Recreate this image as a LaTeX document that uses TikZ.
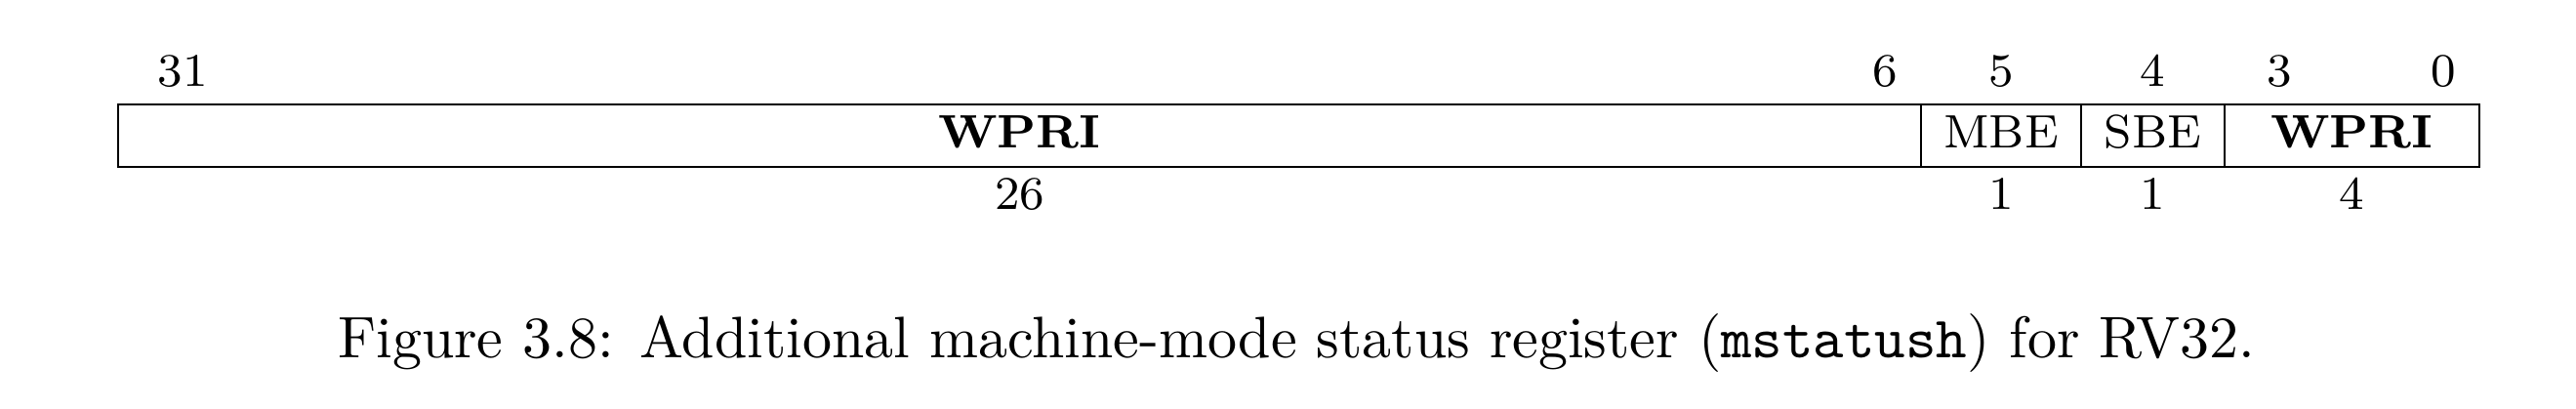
\documentclass[tikz,border=0pt]{standalone}
\begin{document}
\begin{tikzpicture}[x=1pt,y=1pt,
  field/.style={draw,line width=0.4pt,inner sep=0pt,minimum height=10.62pt,
    text height=5.5pt,text depth=1.44pt,font=\footnotesize},
  bitlbl/.style={inner sep=0pt,font=\footnotesize},
  caplbl/.style={inner sep=0pt,anchor=base,font=\normalsize}]
\useasboundingbox (0,0) rectangle (439.83,-69.67);
% fields
\node[field,minimum width=307.83pt] (f1) at (174.08,-23.14) {\textbf{WPRI}};
\node[field,minimum width=27.33pt] (f2) at (341.67,-23.14) {MBE};
\node[field,minimum width=24.5pt] (f3) at (367.58,-23.14) {SBE};
\node[field,minimum width=43.5pt] (f4) at (401.58,-23.14) {\textbf{WPRI}};
% bit numbers
\node[bitlbl,anchor=base west] (b31) at (26.8,-14.83) {31};
\node[bitlbl,anchor=base east] (b6) at (324.17,-14.83) {6};
\node[bitlbl,anchor=base] (b5) at (f2.center |- 0,-14.83) {5};
\node[bitlbl,anchor=base] (b4) at (f3.center |- 0,-14.83) {4};
\node[bitlbl,anchor=base west] (b3) at (386.8,-14.83) {3};
\node[bitlbl,anchor=base east] (b0) at (419.5,-14.83) {0};
% widths
\node[bitlbl,anchor=base] (w1) at (f1.center |- 0,-35.67) {26};
\node[bitlbl,anchor=base] (w2) at (f2.center |- 0,-35.67) {1};
\node[bitlbl,anchor=base] (w3) at (f3.center |- 0,-35.67) {1};
\node[bitlbl,anchor=base] (w4) at (f4.center |- 0,-35.67) {4};
% caption
\node[caplbl] (cap) at (221.33,-61) {Figure 3.8: Additional machine-mode status register (\texttt{mstatush}) for RV32.};
\end{tikzpicture}
\end{document}
